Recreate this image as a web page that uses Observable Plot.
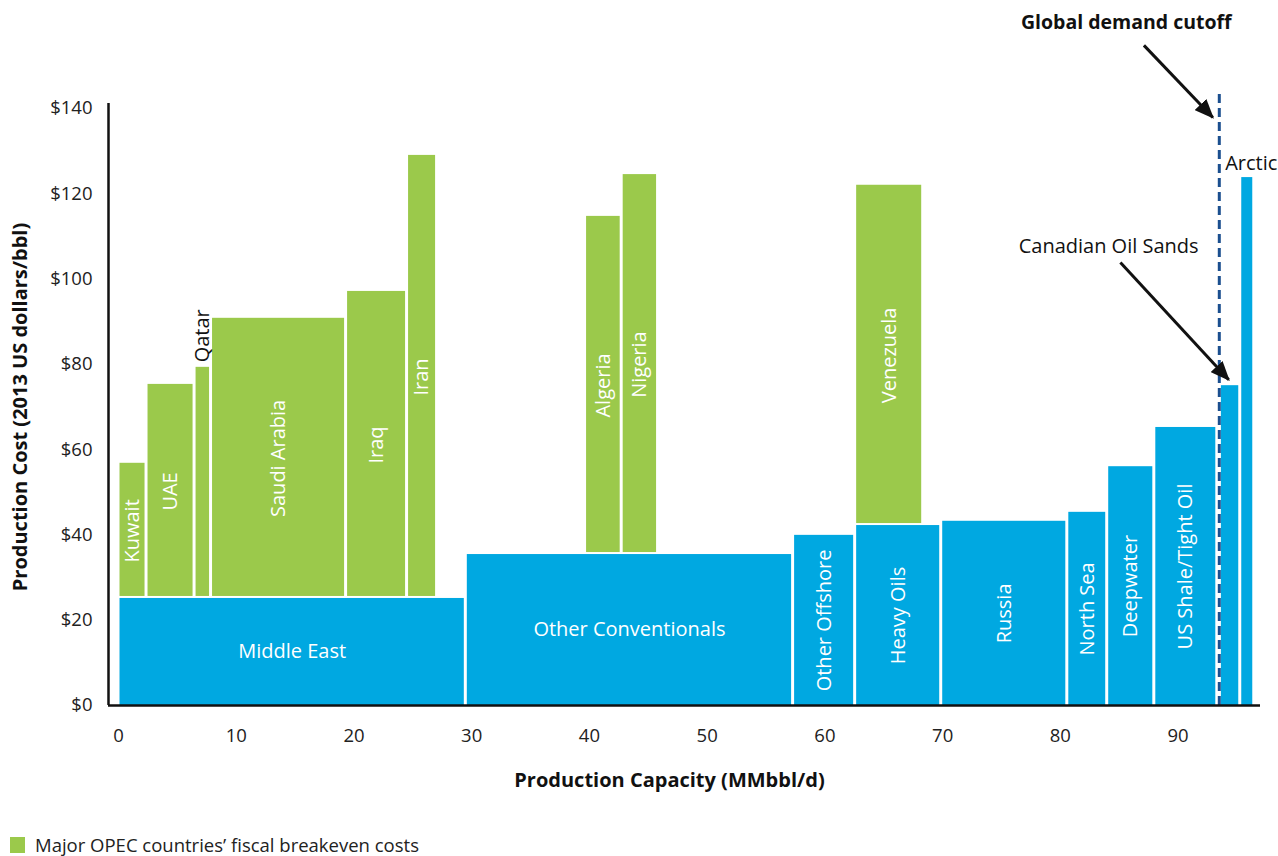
<!DOCTYPE html>
<html>
<head>
<meta charset="utf-8">
<script src="https://cdn.jsdelivr.net/npm/d3@7"></script>
<script src="https://cdn.jsdelivr.net/npm/@observablehq/plot@0.6"></script>
<style>
  body { margin: 0; background: #fff; font-family: "Open Sans", sans-serif; }
  #chart { position: absolute; left: 0; top: 0; }
  #legend { position: absolute; left: 10px; top: 835px; display: flex; align-items: center; font-size: 18.5px; line-height: 20px; color: #222; }
  #legend .sw { width: 15px; height: 16px; background: #9BC94B; margin-right: 10px; }
</style>
</head>
<body>
<div id="chart"></div>
<div id="legend"><div class="sw"></div><span>Major OPEC countries’ fiscal breakeven costs</span></div>
<script>
// ---- data (capacity in MMbbl/d, cost in 2013 US$/bbl) ----
const blueNames = ["Middle East", "Other Conventionals", "Other Offshore", "Heavy Oils", "Russia", "North Sea", "Deepwater", "US Shale/Tight Oil", "Canadian Oil Sands", "Arctic"];
const blueStart = [0, 29.5, 57.3, 62.57, 69.88, 80.59, 83.98, 87.98, 93.55, 95.28];
const blueEnd   = [29.5, 57.3, 62.57, 69.88, 80.59, 83.98, 87.98, 93.33, 95.28, 96.47];
const blueCost  = [25.1, 35.4, 39.9, 42.2, 43.2, 45.3, 56.0, 65.2, 75.0, 123.8];
const blueLabelStyle = ["horizontal", "horizontal", "vertical", "vertical", "vertical", "vertical", "vertical", "vertical", "none", "none"];

const greenNames = ["Kuwait", "UAE", "Qatar", "Saudi Arabia", "Iraq", "Iran", "Algeria", "Nigeria", "Venezuela"];
const greenStart = [0, 2.38, 6.46, 7.86, 19.33, 24.51, 39.63, 42.74, 62.57];
const greenEnd   = [2.38, 6.46, 7.86, 19.33, 24.51, 27.06, 42.74, 45.83, 68.35];
const greenOn    = ["Middle East", "Middle East", "Middle East", "Middle East", "Middle East", "Middle East", "Other Conventionals", "Other Conventionals", "Heavy Oils"];
const greenCost  = [56.8, 75.3, 79.3, 90.8, 97.1, 129.0, 114.7, 124.5, 122.0];
const greenLabelStyle = ["inside", "inside", "outside", "inside", "inside", "inside", "inside", "inside", "inside"];

const xTicks = [0, 10, 20, 30, 40, 50, 60, 70, 80, 90];
const yTicks = [0, 20, 40, 60, 80, 100, 120, 140];
const demandCutoff = 93.5;

const annotations = [
  {text: "Global demand cutoff", x: 85.6, y: 160.2, bold: true},
  {text: "Canadian Oil Sands", x: 84.1, y: 107.6, bold: false}
];
const arrows = [
  {x1: 87.1, y1: 154.8, x2: 92.95, y2: 137.9},
  {x1: 85.1, y1: 103.9, x2: 94.3, y2: 76.4}
];

// ---- tables ----
const blue = blueNames.map((name, i) => ({name, x1: blueStart[i], x2: blueEnd[i], y1: 0, y2: blueCost[i], label: blueLabelStyle[i]}));
const baseOf = Object.fromEntries(blue.map(d => [d.name, d.y2]));
const green = greenNames.map((name, i) => ({name, x1: greenStart[i], x2: greenEnd[i], y1: baseOf[greenOn[i]], y2: greenCost[i], label: greenLabelStyle[i]}));

const mid = d => (d.x1 + d.x2) / 2;
const midY = d => (d.y1 + d.y2) / 2;

const BLUE = "#00A8E1", GREEN = "#9BC94B";
const LF = 20; // label font size

const plot = Plot.plot({
  width: 1278,
  height: 820,
  marginLeft: 108,
  marginRight: 18,
  marginTop: 108,
  marginBottom: 115,
  style: {fontFamily: "'Open Sans', sans-serif", fontSize: "18.5px", color: "#222", background: "#fff"},
  x: {domain: [-0.85, 97.0], ticks: xTicks, tickSize: 0, tickPadding: 23, label: null},
  y: {domain: [0, 140], ticks: yTicks, tickSize: 0, tickPadding: 16, label: null, tickFormat: d => "$" + d},
  marks: [
    Plot.rect(blue, {x1: "x1", x2: "x2", y1: "y1", y2: "y2", fill: BLUE, insetLeft: 1.5, insetRight: 1.5}),
    Plot.rect(green, {x1: "x1", x2: "x2", y1: "y1", y2: "y2", fill: GREEN, insetLeft: 1.5, insetRight: 1.5, insetBottom: 2}),
    // labels inside blue bars
    Plot.text(blue.filter(d => d.label === "horizontal"), {x: mid, y: midY, text: "name", fill: "white", fontSize: LF}),
    Plot.text(blue.filter(d => d.label === "vertical"), {x: mid, y: midY, text: "name", fill: "white", fontSize: LF, rotate: -90}),
    // labels in green bars
    Plot.text(green.filter(d => d.label === "inside"), {x: mid, y: midY, text: "name", fill: "white", fontSize: LF, rotate: -90}),
    Plot.text(green.filter(d => d.label === "outside"), {x: mid, y: "y2", text: "name", fill: "#111", fontSize: LF, rotate: -90, textAnchor: "start", dy: -5}),
    // Arctic label above its bar
    Plot.text(blue.filter(d => d.name === "Arctic"), {x: mid, y: "y2", text: "name", fill: "#111", fontSize: LF, dy: -14, dx: 4}),
    // demand cutoff
    Plot.ruleX([demandCutoff], {y1: 0, y2: 144.2, stroke: "#1B4F8F", strokeWidth: 3, strokeDasharray: "9,5"}),
    // annotations
    Plot.text(annotations.filter(d => d.bold), {x: "x", y: "y", text: "text", fill: "#111", fontSize: 19.5, fontWeight: "bold"}),
    Plot.text(annotations.filter(d => !d.bold), {x: "x", y: "y", text: "text", fill: "#111", fontSize: LF}),
    Plot.link(arrows, {x1: "x1", y1: "y1", x2: "x2", y2: "y2", stroke: "#111", strokeWidth: 3}),
    // axis lines
    Plot.ruleX([-0.85], {y1: 0, y2: 141.2, stroke: "#111", strokeWidth: 2.5}),
    Plot.ruleY([0], {x1: -0.85, x2: 97.0, stroke: "#111", strokeWidth: 2.5}),
    // axis titles
    Plot.text(["Production Cost (2013 US dollars/bbl)"], {frameAnchor: "left", textAnchor: "middle", dx: -88, rotate: -90, fill: "#111", fontSize: 20, fontWeight: "bold"}),
    Plot.text(["Production Capacity (MMbbl/d)"], {frameAnchor: "bottom", textAnchor: "middle", lineAnchor: "middle", dx: -15, dy: 75, fill: "#111", fontSize: 20, fontWeight: "bold"})
  ]
});

// filled arrowheads on the annotation links
const ns = "http://www.w3.org/2000/svg";
const defs = document.createElementNS(ns, "defs");
const marker = document.createElementNS(ns, "marker");
marker.setAttribute("id", "ahead");
marker.setAttribute("viewBox", "0 0 12 10");
marker.setAttribute("refX", "11");
marker.setAttribute("refY", "5");
marker.setAttribute("markerWidth", "6.5");
marker.setAttribute("markerHeight", "5.5");
marker.setAttribute("orient", "auto");
const mp = document.createElementNS(ns, "path");
mp.setAttribute("d", "M0,0L12,5L0,10Z");
mp.setAttribute("fill", "#111");
marker.appendChild(mp);
defs.appendChild(marker);
plot.insertBefore(defs, plot.firstChild);
plot.querySelectorAll('g[aria-label="link"] path').forEach(p => p.setAttribute("marker-end", "url(#ahead)"));

document.getElementById("chart").appendChild(plot);
</script>
</body>
</html>
